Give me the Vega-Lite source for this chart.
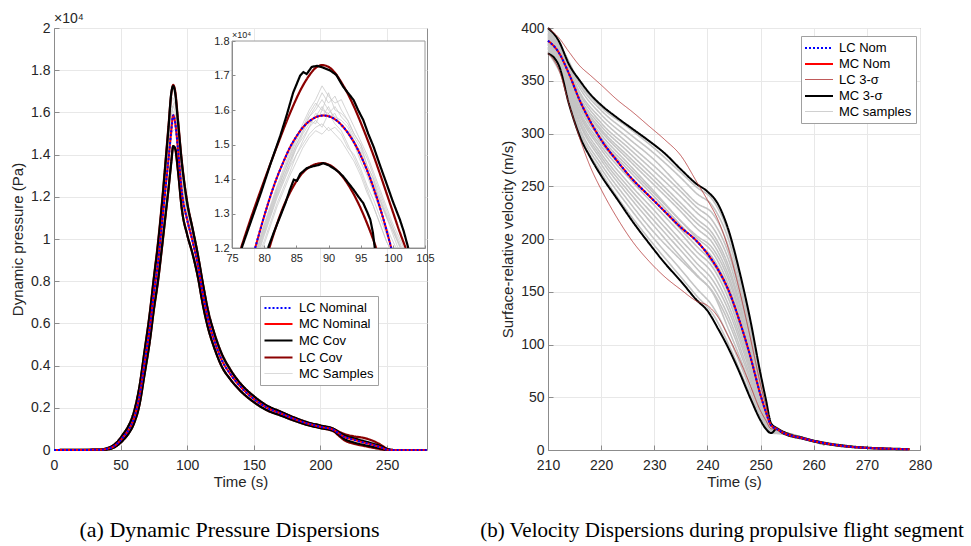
{
"$schema":"https://vega.github.io/schema/vega-lite/v6.json",
"background":"white",
"padding":{"left":10,"top":11,"right":5,"bottom":5},
"bounds":"flush",
"spacing":121,
"config":{
 "font":"Liberation Sans",
 "view":{"stroke":"#8c8c8c","strokeWidth":1},
 "axis":{"grid":true,"gridColor":"#e8e8e8","domainColor":"#8c8c8c","tickColor":"#8c8c8c","labelColor":"#262626","titleColor":"#262626","labelFont":"Liberation Sans","titleFont":"Liberation Sans","labelFontSize":14,"titleFontSize":15,"titleFontWeight":"normal","labelFlush":false,"labelOverlap":false,"tickSize":-5},
 "axisX":{"labelPadding":13,"titlePadding":2},
 "axisY":{"labelPadding":9,"titlePadding":5}
},
"datasets":{
"a":[
{"s":"N","i":"n","t":0,"q":0},{"s":"N","i":"n","t":35,"q":10},{"s":"N","i":"n","t":40,"q":60},{"s":"N","i":"n","t":44,"q":140},{"s":"N","i":"n","t":48,"q":330},{"s":"N","i":"n","t":52,"q":620},{"s":"N","i":"n","t":56,"q":950},{"s":"N","i":"n","t":60,"q":1500},{"s":"N","i":"n","t":64,"q":2500},{"s":"N","i":"n","t":68,"q":4150},{"s":"N","i":"n","t":72,"q":5830},{"s":"N","i":"n","t":75,"q":7440},{"s":"N","i":"n","t":78,"q":8850},{"s":"N","i":"n","t":81,"q":10700},{"s":"N","i":"n","t":84,"q":12600},{"s":"N","i":"n","t":86,"q":13800},{"s":"N","i":"n","t":88,"q":15100},{"s":"N","i":"n","t":89.5,"q":15870},{"s":"N","i":"n","t":91,"q":15500},{"s":"N","i":"n","t":93,"q":14300},{"s":"N","i":"n","t":96,"q":12200},{"s":"N","i":"n","t":100,"q":10900},{"s":"N","i":"n","t":104,"q":9900},{"s":"N","i":"n","t":108,"q":8750},{"s":"N","i":"n","t":112,"q":7300},{"s":"N","i":"n","t":116,"q":6100},{"s":"N","i":"n","t":120,"q":5250},{"s":"N","i":"n","t":126,"q":4250},{"s":"N","i":"n","t":132,"q":3630},{"s":"N","i":"n","t":140,"q":3000},{"s":"N","i":"n","t":150,"q":2420},{"s":"N","i":"n","t":160,"q":2000},{"s":"N","i":"n","t":170,"q":1740},{"s":"N","i":"n","t":180,"q":1480},{"s":"N","i":"n","t":190,"q":1260},{"s":"N","i":"n","t":200,"q":1100},{"s":"N","i":"n","t":210,"q":950},{"s":"N","i":"n","t":213,"q":820},{"s":"N","i":"n","t":218,"q":620},{"s":"N","i":"n","t":225,"q":490},{"s":"N","i":"n","t":232,"q":360},{"s":"N","i":"n","t":240,"q":230},{"s":"N","i":"n","t":246,"q":110},{"s":"N","i":"n","t":250,"q":15},{"s":"N","i":"n","t":255,"q":0},{"s":"N","i":"n","t":280,"q":0},
{"s":"MC","i":"u","t":0,"q":0},{"s":"MC","i":"u","t":35,"q":20},{"s":"MC","i":"u","t":40,"q":90},{"s":"MC","i":"u","t":44,"q":200},{"s":"MC","i":"u","t":48,"q":420},{"s":"MC","i":"u","t":52,"q":760},{"s":"MC","i":"u","t":56,"q":1150},{"s":"MC","i":"u","t":60,"q":1800},{"s":"MC","i":"u","t":64,"q":2950},{"s":"MC","i":"u","t":68,"q":4700},{"s":"MC","i":"u","t":72,"q":6500},{"s":"MC","i":"u","t":75,"q":8150},{"s":"MC","i":"u","t":78,"q":9700},{"s":"MC","i":"u","t":81,"q":11600},{"s":"MC","i":"u","t":84,"q":13800},{"s":"MC","i":"u","t":86,"q":15300},{"s":"MC","i":"u","t":88,"q":16900},{"s":"MC","i":"u","t":89.5,"q":17250},{"s":"MC","i":"u","t":91,"q":16900},{"s":"MC","i":"u","t":93,"q":15600},{"s":"MC","i":"u","t":96,"q":13600},{"s":"MC","i":"u","t":100,"q":11700},{"s":"MC","i":"u","t":104,"q":10500},{"s":"MC","i":"u","t":108,"q":9250},{"s":"MC","i":"u","t":112,"q":7800},{"s":"MC","i":"u","t":116,"q":6500},{"s":"MC","i":"u","t":120,"q":5600},{"s":"MC","i":"u","t":126,"q":4550},{"s":"MC","i":"u","t":132,"q":3850},{"s":"MC","i":"u","t":140,"q":3150},{"s":"MC","i":"u","t":150,"q":2550},{"s":"MC","i":"u","t":160,"q":2100},{"s":"MC","i":"u","t":170,"q":1820},{"s":"MC","i":"u","t":180,"q":1550},{"s":"MC","i":"u","t":190,"q":1320},{"s":"MC","i":"u","t":200,"q":1160},{"s":"MC","i":"u","t":210,"q":1000},{"s":"MC","i":"u","t":213,"q":880},{"s":"MC","i":"u","t":218,"q":700},{"s":"MC","i":"u","t":225,"q":560},{"s":"MC","i":"u","t":232,"q":430},{"s":"MC","i":"u","t":240,"q":290},{"s":"MC","i":"u","t":246,"q":170},{"s":"MC","i":"u","t":250,"q":50},{"s":"MC","i":"u","t":255,"q":0},{"s":"MC","i":"u","t":280,"q":0},
{"s":"MC","i":"l","t":0,"q":0},{"s":"MC","i":"l","t":35,"q":0},{"s":"MC","i":"l","t":40,"q":30},{"s":"MC","i":"l","t":44,"q":90},{"s":"MC","i":"l","t":48,"q":240},{"s":"MC","i":"l","t":52,"q":480},{"s":"MC","i":"l","t":56,"q":780},{"s":"MC","i":"l","t":60,"q":1250},{"s":"MC","i":"l","t":64,"q":2100},{"s":"MC","i":"l","t":68,"q":3600},{"s":"MC","i":"l","t":72,"q":5200},{"s":"MC","i":"l","t":75,"q":6700},{"s":"MC","i":"l","t":78,"q":8000},{"s":"MC","i":"l","t":81,"q":9600},{"s":"MC","i":"l","t":84,"q":11300},{"s":"MC","i":"l","t":86,"q":12400},{"s":"MC","i":"l","t":88,"q":13600},{"s":"MC","i":"l","t":89.5,"q":14400},{"s":"MC","i":"l","t":91,"q":14300},{"s":"MC","i":"l","t":93,"q":13300},{"s":"MC","i":"l","t":96,"q":11400},{"s":"MC","i":"l","t":100,"q":10200},{"s":"MC","i":"l","t":104,"q":9300},{"s":"MC","i":"l","t":108,"q":8200},{"s":"MC","i":"l","t":112,"q":6800},{"s":"MC","i":"l","t":116,"q":5700},{"s":"MC","i":"l","t":120,"q":4900},{"s":"MC","i":"l","t":126,"q":3950},{"s":"MC","i":"l","t":132,"q":3380},{"s":"MC","i":"l","t":140,"q":2800},{"s":"MC","i":"l","t":150,"q":2270},{"s":"MC","i":"l","t":160,"q":1880},{"s":"MC","i":"l","t":170,"q":1640},{"s":"MC","i":"l","t":180,"q":1400},{"s":"MC","i":"l","t":190,"q":1190},{"s":"MC","i":"l","t":200,"q":1040},{"s":"MC","i":"l","t":210,"q":900},{"s":"MC","i":"l","t":213,"q":760},{"s":"MC","i":"l","t":218,"q":520},{"s":"MC","i":"l","t":225,"q":360},{"s":"MC","i":"l","t":232,"q":250},{"s":"MC","i":"l","t":240,"q":140},{"s":"MC","i":"l","t":246,"q":60},{"s":"MC","i":"l","t":250,"q":0},{"s":"MC","i":"l","t":255,"q":0},{"s":"MC","i":"l","t":280,"q":0},
{"s":"LC","i":"u","t":0,"q":0},{"s":"LC","i":"u","t":35,"q":20},{"s":"LC","i":"u","t":40,"q":90},{"s":"LC","i":"u","t":44,"q":200},{"s":"LC","i":"u","t":48,"q":420},{"s":"LC","i":"u","t":52,"q":750},{"s":"LC","i":"u","t":56,"q":1150},{"s":"LC","i":"u","t":60,"q":1800},{"s":"LC","i":"u","t":64,"q":2950},{"s":"LC","i":"u","t":68,"q":4700},{"s":"LC","i":"u","t":72,"q":6550},{"s":"LC","i":"u","t":75,"q":8200},{"s":"LC","i":"u","t":78,"q":9800},{"s":"LC","i":"u","t":81,"q":11700},{"s":"LC","i":"u","t":84,"q":13900},{"s":"LC","i":"u","t":86,"q":15400},{"s":"LC","i":"u","t":88,"q":16850},{"s":"LC","i":"u","t":89.5,"q":17300},{"s":"LC","i":"u","t":91,"q":17000},{"s":"LC","i":"u","t":93,"q":15700},{"s":"LC","i":"u","t":96,"q":13650},{"s":"LC","i":"u","t":100,"q":11750},{"s":"LC","i":"u","t":104,"q":10500},{"s":"LC","i":"u","t":108,"q":9250},{"s":"LC","i":"u","t":112,"q":7800},{"s":"LC","i":"u","t":116,"q":6500},{"s":"LC","i":"u","t":120,"q":5600},{"s":"LC","i":"u","t":126,"q":4550},{"s":"LC","i":"u","t":132,"q":3850},{"s":"LC","i":"u","t":140,"q":3150},{"s":"LC","i":"u","t":150,"q":2550},{"s":"LC","i":"u","t":160,"q":2100},{"s":"LC","i":"u","t":170,"q":1820},{"s":"LC","i":"u","t":180,"q":1550},{"s":"LC","i":"u","t":190,"q":1320},{"s":"LC","i":"u","t":200,"q":1160},{"s":"LC","i":"u","t":210,"q":1000},{"s":"LC","i":"u","t":213,"q":900},{"s":"LC","i":"u","t":218,"q":760},{"s":"LC","i":"u","t":225,"q":650},{"s":"LC","i":"u","t":232,"q":580},{"s":"LC","i":"u","t":240,"q":420},{"s":"LC","i":"u","t":246,"q":220},{"s":"LC","i":"u","t":250,"q":60},{"s":"LC","i":"u","t":255,"q":0},{"s":"LC","i":"u","t":280,"q":0},
{"s":"LC","i":"l","t":0,"q":0},{"s":"LC","i":"l","t":35,"q":0},{"s":"LC","i":"l","t":40,"q":30},{"s":"LC","i":"l","t":44,"q":90},{"s":"LC","i":"l","t":48,"q":240},{"s":"LC","i":"l","t":52,"q":480},{"s":"LC","i":"l","t":56,"q":790},{"s":"LC","i":"l","t":60,"q":1260},{"s":"LC","i":"l","t":64,"q":2100},{"s":"LC","i":"l","t":68,"q":3600},{"s":"LC","i":"l","t":72,"q":5200},{"s":"LC","i":"l","t":75,"q":6650},{"s":"LC","i":"l","t":78,"q":7950},{"s":"LC","i":"l","t":81,"q":9550},{"s":"LC","i":"l","t":84,"q":11250},{"s":"LC","i":"l","t":86,"q":12400},{"s":"LC","i":"l","t":88,"q":13650},{"s":"LC","i":"l","t":89.5,"q":14400},{"s":"LC","i":"l","t":91,"q":14250},{"s":"LC","i":"l","t":93,"q":13250},{"s":"LC","i":"l","t":96,"q":11400},{"s":"LC","i":"l","t":100,"q":10200},{"s":"LC","i":"l","t":104,"q":9300},{"s":"LC","i":"l","t":108,"q":8200},{"s":"LC","i":"l","t":112,"q":6800},{"s":"LC","i":"l","t":116,"q":5700},{"s":"LC","i":"l","t":120,"q":4900},{"s":"LC","i":"l","t":126,"q":3950},{"s":"LC","i":"l","t":132,"q":3380},{"s":"LC","i":"l","t":140,"q":2800},{"s":"LC","i":"l","t":150,"q":2270},{"s":"LC","i":"l","t":160,"q":1880},{"s":"LC","i":"l","t":170,"q":1640},{"s":"LC","i":"l","t":180,"q":1400},{"s":"LC","i":"l","t":190,"q":1190},{"s":"LC","i":"l","t":200,"q":1040},{"s":"LC","i":"l","t":210,"q":880},{"s":"LC","i":"l","t":213,"q":720},{"s":"LC","i":"l","t":218,"q":460},{"s":"LC","i":"l","t":225,"q":300},{"s":"LC","i":"l","t":232,"q":200},{"s":"LC","i":"l","t":240,"q":100},{"s":"LC","i":"l","t":246,"q":30},{"s":"LC","i":"l","t":250,"q":0},{"s":"LC","i":"l","t":255,"q":0},{"s":"LC","i":"l","t":280,"q":0},
{"s":"MS","i":"1","t":0,"q":0},{"s":"MS","i":"1","t":40,"q":80},{"s":"MS","i":"1","t":50,"q":450},{"s":"MS","i":"1","t":60,"q":1600},{"s":"MS","i":"1","t":68,"q":4400},{"s":"MS","i":"1","t":75,"q":7900},{"s":"MS","i":"1","t":80,"q":10800},{"s":"MS","i":"1","t":84,"q":13500},{"s":"MS","i":"1","t":87,"q":15600},{"s":"MS","i":"1","t":89,"q":16700},{"s":"MS","i":"1","t":91,"q":16300},{"s":"MS","i":"1","t":93,"q":15100},{"s":"MS","i":"1","t":96,"q":13000},{"s":"MS","i":"1","t":100,"q":11500},{"s":"MS","i":"1","t":106,"q":9800},{"s":"MS","i":"1","t":112,"q":7700},{"s":"MS","i":"1","t":120,"q":5550},{"s":"MS","i":"1","t":130,"q":4000},{"s":"MS","i":"1","t":145,"q":2850},{"s":"MS","i":"1","t":160,"q":2100},{"s":"MS","i":"1","t":180,"q":1550},{"s":"MS","i":"1","t":200,"q":1150},{"s":"MS","i":"1","t":210,"q":1000},{"s":"MS","i":"1","t":215,"q":780},{"s":"MS","i":"1","t":225,"q":560},{"s":"MS","i":"1","t":235,"q":400},{"s":"MS","i":"1","t":245,"q":200},{"s":"MS","i":"1","t":250,"q":60},{"s":"MS","i":"1","t":255,"q":0},{"s":"MS","i":"1","t":280,"q":0},
{"s":"MS","i":"2","t":0,"q":0},{"s":"MS","i":"2","t":40,"q":60},{"s":"MS","i":"2","t":50,"q":400},{"s":"MS","i":"2","t":60,"q":1500},{"s":"MS","i":"2","t":68,"q":4200},{"s":"MS","i":"2","t":75,"q":7600},{"s":"MS","i":"2","t":80,"q":10400},{"s":"MS","i":"2","t":84,"q":13000},{"s":"MS","i":"2","t":87,"q":15100},{"s":"MS","i":"2","t":89,"q":16300},{"s":"MS","i":"2","t":91,"q":16000},{"s":"MS","i":"2","t":93,"q":14800},{"s":"MS","i":"2","t":96,"q":12700},{"s":"MS","i":"2","t":100,"q":11300},{"s":"MS","i":"2","t":106,"q":9650},{"s":"MS","i":"2","t":112,"q":7600},{"s":"MS","i":"2","t":120,"q":5450},{"s":"MS","i":"2","t":130,"q":3950},{"s":"MS","i":"2","t":145,"q":2800},{"s":"MS","i":"2","t":160,"q":2080},{"s":"MS","i":"2","t":180,"q":1530},{"s":"MS","i":"2","t":200,"q":1140},{"s":"MS","i":"2","t":210,"q":990},{"s":"MS","i":"2","t":215,"q":760},{"s":"MS","i":"2","t":225,"q":540},{"s":"MS","i":"2","t":235,"q":380},{"s":"MS","i":"2","t":245,"q":180},{"s":"MS","i":"2","t":250,"q":40},{"s":"MS","i":"2","t":255,"q":0},{"s":"MS","i":"2","t":280,"q":0},
{"s":"MS","i":"3","t":0,"q":0},{"s":"MS","i":"3","t":40,"q":40},{"s":"MS","i":"3","t":50,"q":330},{"s":"MS","i":"3","t":60,"q":1350},{"s":"MS","i":"3","t":68,"q":3900},{"s":"MS","i":"3","t":75,"q":7200},{"s":"MS","i":"3","t":80,"q":9900},{"s":"MS","i":"3","t":84,"q":12400},{"s":"MS","i":"3","t":87,"q":14500},{"s":"MS","i":"3","t":89,"q":15800},{"s":"MS","i":"3","t":91,"q":15900},{"s":"MS","i":"3","t":93,"q":14900},{"s":"MS","i":"3","t":96,"q":12900},{"s":"MS","i":"3","t":100,"q":11400},{"s":"MS","i":"3","t":106,"q":9700},{"s":"MS","i":"3","t":112,"q":7650},{"s":"MS","i":"3","t":120,"q":5500},{"s":"MS","i":"3","t":130,"q":3980},{"s":"MS","i":"3","t":145,"q":2820},{"s":"MS","i":"3","t":160,"q":2090},{"s":"MS","i":"3","t":180,"q":1540},{"s":"MS","i":"3","t":200,"q":1150},{"s":"MS","i":"3","t":210,"q":990},{"s":"MS","i":"3","t":215,"q":770},{"s":"MS","i":"3","t":225,"q":560},{"s":"MS","i":"3","t":235,"q":400},{"s":"MS","i":"3","t":245,"q":190},{"s":"MS","i":"3","t":250,"q":50},{"s":"MS","i":"3","t":255,"q":0},{"s":"MS","i":"3","t":280,"q":0},
{"s":"MS","i":"4","t":0,"q":0},{"s":"MS","i":"4","t":40,"q":70},{"s":"MS","i":"4","t":50,"q":420},{"s":"MS","i":"4","t":60,"q":1550},{"s":"MS","i":"4","t":68,"q":4300},{"s":"MS","i":"4","t":75,"q":7700},{"s":"MS","i":"4","t":80,"q":10300},{"s":"MS","i":"4","t":84,"q":12800},{"s":"MS","i":"4","t":87,"q":14600},{"s":"MS","i":"4","t":89,"q":15500},{"s":"MS","i":"4","t":91,"q":15300},{"s":"MS","i":"4","t":93,"q":14200},{"s":"MS","i":"4","t":96,"q":12300},{"s":"MS","i":"4","t":100,"q":11000},{"s":"MS","i":"4","t":106,"q":9400},{"s":"MS","i":"4","t":112,"q":7400},{"s":"MS","i":"4","t":120,"q":5350},{"s":"MS","i":"4","t":130,"q":3870},{"s":"MS","i":"4","t":145,"q":2750},{"s":"MS","i":"4","t":160,"q":2040},{"s":"MS","i":"4","t":180,"q":1510},{"s":"MS","i":"4","t":200,"q":1120},{"s":"MS","i":"4","t":210,"q":970},{"s":"MS","i":"4","t":215,"q":740},{"s":"MS","i":"4","t":225,"q":520},{"s":"MS","i":"4","t":235,"q":360},{"s":"MS","i":"4","t":245,"q":160},{"s":"MS","i":"4","t":250,"q":30},{"s":"MS","i":"4","t":255,"q":0},{"s":"MS","i":"4","t":280,"q":0},
{"s":"MS","i":"5","t":0,"q":0},{"s":"MS","i":"5","t":40,"q":50},{"s":"MS","i":"5","t":50,"q":360},{"s":"MS","i":"5","t":60,"q":1400},{"s":"MS","i":"5","t":68,"q":4000},{"s":"MS","i":"5","t":75,"q":7300},{"s":"MS","i":"5","t":80,"q":9900},{"s":"MS","i":"5","t":84,"q":12300},{"s":"MS","i":"5","t":87,"q":14100},{"s":"MS","i":"5","t":89,"q":15100},{"s":"MS","i":"5","t":91,"q":15200},{"s":"MS","i":"5","t":93,"q":14200},{"s":"MS","i":"5","t":96,"q":12300},{"s":"MS","i":"5","t":100,"q":11000},{"s":"MS","i":"5","t":106,"q":9450},{"s":"MS","i":"5","t":112,"q":7450},{"s":"MS","i":"5","t":120,"q":5400},{"s":"MS","i":"5","t":130,"q":3900},{"s":"MS","i":"5","t":145,"q":2780},{"s":"MS","i":"5","t":160,"q":2060},{"s":"MS","i":"5","t":180,"q":1520},{"s":"MS","i":"5","t":200,"q":1130},{"s":"MS","i":"5","t":210,"q":980},{"s":"MS","i":"5","t":215,"q":750},{"s":"MS","i":"5","t":225,"q":540},{"s":"MS","i":"5","t":235,"q":390},{"s":"MS","i":"5","t":245,"q":200},{"s":"MS","i":"5","t":250,"q":50},{"s":"MS","i":"5","t":255,"q":0},{"s":"MS","i":"5","t":280,"q":0},
{"s":"MS","i":"6","t":0,"q":0},{"s":"MS","i":"6","t":40,"q":40},{"s":"MS","i":"6","t":50,"q":320},{"s":"MS","i":"6","t":60,"q":1300},{"s":"MS","i":"6","t":68,"q":3800},{"s":"MS","i":"6","t":75,"q":7000},{"s":"MS","i":"6","t":80,"q":9700},{"s":"MS","i":"6","t":84,"q":12300},{"s":"MS","i":"6","t":87,"q":14800},{"s":"MS","i":"6","t":89,"q":16200},{"s":"MS","i":"6","t":91,"q":16500},{"s":"MS","i":"6","t":93,"q":15600},{"s":"MS","i":"6","t":96,"q":13500},{"s":"MS","i":"6","t":100,"q":11800},{"s":"MS","i":"6","t":106,"q":10000},{"s":"MS","i":"6","t":112,"q":7900},{"s":"MS","i":"6","t":120,"q":5650},{"s":"MS","i":"6","t":130,"q":4050},{"s":"MS","i":"6","t":145,"q":2880},{"s":"MS","i":"6","t":160,"q":2120},{"s":"MS","i":"6","t":180,"q":1560},{"s":"MS","i":"6","t":200,"q":1160},{"s":"MS","i":"6","t":210,"q":1010},{"s":"MS","i":"6","t":215,"q":800},{"s":"MS","i":"6","t":225,"q":590},{"s":"MS","i":"6","t":235,"q":430},{"s":"MS","i":"6","t":245,"q":230},{"s":"MS","i":"6","t":250,"q":70},{"s":"MS","i":"6","t":255,"q":5},{"s":"MS","i":"6","t":280,"q":0},
{"s":"MS","i":"7","t":0,"q":0},{"s":"MS","i":"7","t":40,"q":60},{"s":"MS","i":"7","t":50,"q":380},{"s":"MS","i":"7","t":60,"q":1450},{"s":"MS","i":"7","t":68,"q":4100},{"s":"MS","i":"7","t":75,"q":7450},{"s":"MS","i":"7","t":80,"q":10100},{"s":"MS","i":"7","t":84,"q":12700},{"s":"MS","i":"7","t":87,"q":14800},{"s":"MS","i":"7","t":89,"q":15800},{"s":"MS","i":"7","t":91,"q":15600},{"s":"MS","i":"7","t":93,"q":14600},{"s":"MS","i":"7","t":96,"q":12600},{"s":"MS","i":"7","t":100,"q":11200},{"s":"MS","i":"7","t":106,"q":9550},{"s":"MS","i":"7","t":112,"q":7500},{"s":"MS","i":"7","t":120,"q":5420},{"s":"MS","i":"7","t":130,"q":3920},{"s":"MS","i":"7","t":145,"q":2790},{"s":"MS","i":"7","t":160,"q":2060},{"s":"MS","i":"7","t":180,"q":1520},{"s":"MS","i":"7","t":200,"q":1130},{"s":"MS","i":"7","t":210,"q":980},{"s":"MS","i":"7","t":215,"q":760},{"s":"MS","i":"7","t":225,"q":550},{"s":"MS","i":"7","t":235,"q":390},{"s":"MS","i":"7","t":245,"q":190},{"s":"MS","i":"7","t":250,"q":45},{"s":"MS","i":"7","t":255,"q":0},{"s":"MS","i":"7","t":280,"q":0},
{"s":"MS","i":"8","t":0,"q":0},{"s":"MS","i":"8","t":40,"q":90},{"s":"MS","i":"8","t":50,"q":480},{"s":"MS","i":"8","t":60,"q":1700},{"s":"MS","i":"8","t":68,"q":4500},{"s":"MS","i":"8","t":75,"q":8000},{"s":"MS","i":"8","t":80,"q":10700},{"s":"MS","i":"8","t":84,"q":13200},{"s":"MS","i":"8","t":87,"q":15300},{"s":"MS","i":"8","t":89,"q":16100},{"s":"MS","i":"8","t":91,"q":15500},{"s":"MS","i":"8","t":93,"q":14100},{"s":"MS","i":"8","t":96,"q":12200},{"s":"MS","i":"8","t":100,"q":11000},{"s":"MS","i":"8","t":106,"q":9400},{"s":"MS","i":"8","t":112,"q":7400},{"s":"MS","i":"8","t":120,"q":5350},{"s":"MS","i":"8","t":130,"q":3880},{"s":"MS","i":"8","t":145,"q":2760},{"s":"MS","i":"8","t":160,"q":2050},{"s":"MS","i":"8","t":180,"q":1510},{"s":"MS","i":"8","t":200,"q":1120},{"s":"MS","i":"8","t":210,"q":970},{"s":"MS","i":"8","t":215,"q":740},{"s":"MS","i":"8","t":225,"q":510},{"s":"MS","i":"8","t":235,"q":350},{"s":"MS","i":"8","t":245,"q":150},{"s":"MS","i":"8","t":250,"q":25},{"s":"MS","i":"8","t":255,"q":0},{"s":"MS","i":"8","t":280,"q":0}
],
"ai":[
{"s":"N","i":"n","t":78.6,"q":12000},{"s":"N","i":"n","t":80,"q":12920},{"s":"N","i":"n","t":81,"q":13520},{"s":"N","i":"n","t":82,"q":14050},{"s":"N","i":"n","t":83,"q":14500},{"s":"N","i":"n","t":84,"q":14910},{"s":"N","i":"n","t":85,"q":15230},{"s":"N","i":"n","t":86,"q":15490},{"s":"N","i":"n","t":87,"q":15670},{"s":"N","i":"n","t":88,"q":15790},{"s":"N","i":"n","t":89.2,"q":15840},{"s":"N","i":"n","t":90,"q":15820},{"s":"N","i":"n","t":91,"q":15730},{"s":"N","i":"n","t":92,"q":15570},{"s":"N","i":"n","t":93,"q":15340},{"s":"N","i":"n","t":94,"q":15050},{"s":"N","i":"n","t":95,"q":14680},{"s":"N","i":"n","t":96,"q":14250},{"s":"N","i":"n","t":97,"q":13740},{"s":"N","i":"n","t":98,"q":13170},{"s":"N","i":"n","t":99,"q":12530},{"s":"N","i":"n","t":99.75,"q":12000},
{"s":"MC","i":"u","t":76.5,"q":12000},{"s":"MC","i":"u","t":78,"q":12800},{"s":"MC","i":"u","t":79.5,"q":13600},{"s":"MC","i":"u","t":81,"q":14450},{"s":"MC","i":"u","t":82.5,"q":15250},{"s":"MC","i":"u","t":83.5,"q":15850},{"s":"MC","i":"u","t":84.5,"q":16500},{"s":"MC","i":"u","t":85.6,"q":17000},{"s":"MC","i":"u","t":86.1,"q":17100},{"s":"MC","i":"u","t":86.6,"q":17040},{"s":"MC","i":"u","t":87.4,"q":17250},{"s":"MC","i":"u","t":88.2,"q":17280},{"s":"MC","i":"u","t":89,"q":17240},{"s":"MC","i":"u","t":90.2,"q":17150},{"s":"MC","i":"u","t":91.2,"q":17020},{"s":"MC","i":"u","t":92.3,"q":16670},{"s":"MC","i":"u","t":93.1,"q":16480},{"s":"MC","i":"u","t":93.9,"q":16290},{"s":"MC","i":"u","t":94.6,"q":16000},{"s":"MC","i":"u","t":95.4,"q":15710},{"s":"MC","i":"u","t":96.2,"q":15300},{"s":"MC","i":"u","t":97,"q":14940},{"s":"MC","i":"u","t":98,"q":14400},{"s":"MC","i":"u","t":99,"q":13880},{"s":"MC","i":"u","t":100,"q":13350},{"s":"MC","i":"u","t":101.1,"q":12820},{"s":"MC","i":"u","t":101.7,"q":12480},{"s":"MC","i":"u","t":102.4,"q":12000},
{"s":"MC","i":"l","t":80.6,"q":12000},{"s":"MC","i":"l","t":81.5,"q":12450},{"s":"MC","i":"l","t":82.5,"q":12920},{"s":"MC","i":"l","t":83.3,"q":13300},{"s":"MC","i":"l","t":84,"q":13690},{"s":"MC","i":"l","t":84.6,"q":13980},{"s":"MC","i":"l","t":85.1,"q":13950},{"s":"MC","i":"l","t":85.6,"q":14150},{"s":"MC","i":"l","t":86.6,"q":14310},{"s":"MC","i":"l","t":87.6,"q":14370},{"s":"MC","i":"l","t":88.4,"q":14400},{"s":"MC","i":"l","t":89.2,"q":14460},{"s":"MC","i":"l","t":90,"q":14400},{"s":"MC","i":"l","t":90.8,"q":14310},{"s":"MC","i":"l","t":91.6,"q":14200},{"s":"MC","i":"l","t":92.3,"q":14070},{"s":"MC","i":"l","t":93.1,"q":13880},{"s":"MC","i":"l","t":93.9,"q":13690},{"s":"MC","i":"l","t":94.6,"q":13500},{"s":"MC","i":"l","t":95.4,"q":13300},{"s":"MC","i":"l","t":96,"q":13050},{"s":"MC","i":"l","t":96.5,"q":12820},{"s":"MC","i":"l","t":96.9,"q":12450},{"s":"MC","i":"l","t":97.2,"q":12000},
{"s":"LC","i":"u","t":76.4,"q":12000},{"s":"LC","i":"u","t":78,"q":12900},{"s":"LC","i":"u","t":80,"q":13950},{"s":"LC","i":"u","t":82,"q":14950},{"s":"LC","i":"u","t":84,"q":15900},{"s":"LC","i":"u","t":86,"q":16700},{"s":"LC","i":"u","t":87,"q":17000},{"s":"LC","i":"u","t":88,"q":17220},{"s":"LC","i":"u","t":89,"q":17300},{"s":"LC","i":"u","t":90,"q":17250},{"s":"LC","i":"u","t":91,"q":17080},{"s":"LC","i":"u","t":92,"q":16800},{"s":"LC","i":"u","t":93,"q":16470},{"s":"LC","i":"u","t":94,"q":16080},{"s":"LC","i":"u","t":95,"q":15640},{"s":"LC","i":"u","t":96,"q":15170},{"s":"LC","i":"u","t":97,"q":14680},{"s":"LC","i":"u","t":98,"q":14150},{"s":"LC","i":"u","t":99,"q":13600},{"s":"LC","i":"u","t":100,"q":13050},{"s":"LC","i":"u","t":101,"q":12500},{"s":"LC","i":"u","t":102,"q":12000},
{"s":"LC","i":"l","t":80.8,"q":12000},{"s":"LC","i":"l","t":82,"q":12700},{"s":"LC","i":"l","t":83,"q":13200},{"s":"LC","i":"l","t":84,"q":13600},{"s":"LC","i":"l","t":85,"q":13930},{"s":"LC","i":"l","t":86,"q":14180},{"s":"LC","i":"l","t":87,"q":14340},{"s":"LC","i":"l","t":88,"q":14430},{"s":"LC","i":"l","t":89,"q":14460},{"s":"LC","i":"l","t":90,"q":14420},{"s":"LC","i":"l","t":91,"q":14300},{"s":"LC","i":"l","t":92,"q":14110},{"s":"LC","i":"l","t":93,"q":13850},{"s":"LC","i":"l","t":94,"q":13530},{"s":"LC","i":"l","t":95,"q":13150},{"s":"LC","i":"l","t":96,"q":12710},{"s":"LC","i":"l","t":97,"q":12220},{"s":"LC","i":"l","t":97.4,"q":12000},
{"s":"MS","i":"1","t":79,"q":12000},{"s":"MS","i":"1","t":80,"q":12600},{"s":"MS","i":"1","t":82,"q":13700},{"s":"MS","i":"1","t":84,"q":14600},{"s":"MS","i":"1","t":85,"q":15000},{"s":"MS","i":"1","t":86,"q":15350},{"s":"MS","i":"1","t":87,"q":15800},{"s":"MS","i":"1","t":88,"q":16100},{"s":"MS","i":"1","t":89,"q":16500},{"s":"MS","i":"1","t":90,"q":16200},{"s":"MS","i":"1","t":91,"q":16400},{"s":"MS","i":"1","t":92,"q":16000},{"s":"MS","i":"1","t":93,"q":15700},{"s":"MS","i":"1","t":94,"q":15300},{"s":"MS","i":"1","t":95,"q":15000},{"s":"MS","i":"1","t":96,"q":14400},{"s":"MS","i":"1","t":97,"q":14000},{"s":"MS","i":"1","t":98,"q":13300},{"s":"MS","i":"1","t":99,"q":12900},{"s":"MS","i":"1","t":100,"q":12500},{"s":"MS","i":"1","t":101,"q":12100},{"s":"MS","i":"1","t":101.2,"q":12000},
{"s":"MS","i":"2","t":79.3,"q":12000},{"s":"MS","i":"2","t":80,"q":12400},{"s":"MS","i":"2","t":82,"q":13500},{"s":"MS","i":"2","t":84,"q":14400},{"s":"MS","i":"2","t":85,"q":14900},{"s":"MS","i":"2","t":86,"q":15200},{"s":"MS","i":"2","t":87,"q":15500},{"s":"MS","i":"2","t":88,"q":15900},{"s":"MS","i":"2","t":89,"q":15800},{"s":"MS","i":"2","t":90,"q":16100},{"s":"MS","i":"2","t":91,"q":15700},{"s":"MS","i":"2","t":92,"q":15600},{"s":"MS","i":"2","t":93,"q":15300},{"s":"MS","i":"2","t":94,"q":15000},{"s":"MS","i":"2","t":95,"q":14500},{"s":"MS","i":"2","t":96,"q":14100},{"s":"MS","i":"2","t":97,"q":13600},{"s":"MS","i":"2","t":98,"q":13100},{"s":"MS","i":"2","t":99,"q":12600},{"s":"MS","i":"2","t":100,"q":12200},{"s":"MS","i":"2","t":100.5,"q":12000},
{"s":"MS","i":"3","t":78.8,"q":12000},{"s":"MS","i":"3","t":80,"q":12700},{"s":"MS","i":"3","t":82,"q":13800},{"s":"MS","i":"3","t":84,"q":14800},{"s":"MS","i":"3","t":85,"q":15200},{"s":"MS","i":"3","t":86,"q":15600},{"s":"MS","i":"3","t":87,"q":16000},{"s":"MS","i":"3","t":88,"q":16300},{"s":"MS","i":"3","t":89,"q":16700},{"s":"MS","i":"3","t":90,"q":16400},{"s":"MS","i":"3","t":91,"q":16200},{"s":"MS","i":"3","t":92,"q":16300},{"s":"MS","i":"3","t":93,"q":15900},{"s":"MS","i":"3","t":94,"q":15500},{"s":"MS","i":"3","t":95,"q":15100},{"s":"MS","i":"3","t":96,"q":14700},{"s":"MS","i":"3","t":97,"q":14200},{"s":"MS","i":"3","t":98,"q":13700},{"s":"MS","i":"3","t":99,"q":13200},{"s":"MS","i":"3","t":100,"q":12700},{"s":"MS","i":"3","t":101,"q":12300},{"s":"MS","i":"3","t":101.7,"q":12000},
{"s":"MS","i":"4","t":79.6,"q":12000},{"s":"MS","i":"4","t":80,"q":12200},{"s":"MS","i":"4","t":82,"q":13300},{"s":"MS","i":"4","t":84,"q":14200},{"s":"MS","i":"4","t":85,"q":14700},{"s":"MS","i":"4","t":86,"q":15000},{"s":"MS","i":"4","t":87,"q":15300},{"s":"MS","i":"4","t":88,"q":15500},{"s":"MS","i":"4","t":89,"q":15600},{"s":"MS","i":"4","t":90,"q":15400},{"s":"MS","i":"4","t":91,"q":15500},{"s":"MS","i":"4","t":92,"q":15300},{"s":"MS","i":"4","t":93,"q":14900},{"s":"MS","i":"4","t":94,"q":14700},{"s":"MS","i":"4","t":95,"q":14300},{"s":"MS","i":"4","t":96,"q":13800},{"s":"MS","i":"4","t":97,"q":13400},{"s":"MS","i":"4","t":98,"q":12900},{"s":"MS","i":"4","t":99,"q":12400},{"s":"MS","i":"4","t":99.8,"q":12000},
{"s":"MS","i":"5","t":79.1,"q":12000},{"s":"MS","i":"5","t":80,"q":12500},{"s":"MS","i":"5","t":82,"q":13600},{"s":"MS","i":"5","t":84,"q":14500},{"s":"MS","i":"5","t":85,"q":15000},{"s":"MS","i":"5","t":86,"q":15400},{"s":"MS","i":"5","t":87,"q":15700},{"s":"MS","i":"5","t":88,"q":15600},{"s":"MS","i":"5","t":89,"q":16000},{"s":"MS","i":"5","t":90,"q":15900},{"s":"MS","i":"5","t":91,"q":16100},{"s":"MS","i":"5","t":92,"q":15800},{"s":"MS","i":"5","t":93,"q":15600},{"s":"MS","i":"5","t":94,"q":15200},{"s":"MS","i":"5","t":95,"q":14900},{"s":"MS","i":"5","t":96,"q":14400},{"s":"MS","i":"5","t":97,"q":14000},{"s":"MS","i":"5","t":98,"q":13500},{"s":"MS","i":"5","t":99,"q":13000},{"s":"MS","i":"5","t":100,"q":12600},{"s":"MS","i":"5","t":101,"q":12200},{"s":"MS","i":"5","t":101.4,"q":12000},
{"s":"MS","i":"6","t":79.4,"q":12000},{"s":"MS","i":"6","t":80,"q":12350},{"s":"MS","i":"6","t":82,"q":13450},{"s":"MS","i":"6","t":84,"q":14350},{"s":"MS","i":"6","t":85,"q":14700},{"s":"MS","i":"6","t":86,"q":15100},{"s":"MS","i":"6","t":87,"q":15500},{"s":"MS","i":"6","t":88,"q":15700},{"s":"MS","i":"6","t":89,"q":15500},{"s":"MS","i":"6","t":90,"q":15900},{"s":"MS","i":"6","t":91,"q":15600},{"s":"MS","i":"6","t":92,"q":15400},{"s":"MS","i":"6","t":93,"q":15000},{"s":"MS","i":"6","t":94,"q":14600},{"s":"MS","i":"6","t":95,"q":14200},{"s":"MS","i":"6","t":96,"q":13700},{"s":"MS","i":"6","t":97,"q":13200},{"s":"MS","i":"6","t":98,"q":12700},{"s":"MS","i":"6","t":99,"q":12200},{"s":"MS","i":"6","t":99.5,"q":12000},
{"s":"MS","i":"7","t":78.9,"q":12000},{"s":"MS","i":"7","t":80,"q":12650},{"s":"MS","i":"7","t":82,"q":13750},{"s":"MS","i":"7","t":84,"q":14700},{"s":"MS","i":"7","t":85,"q":15200},{"s":"MS","i":"7","t":86,"q":15500},{"s":"MS","i":"7","t":87,"q":15900},{"s":"MS","i":"7","t":88,"q":16200},{"s":"MS","i":"7","t":89,"q":16000},{"s":"MS","i":"7","t":90,"q":16500},{"s":"MS","i":"7","t":91,"q":16000},{"s":"MS","i":"7","t":92,"q":15900},{"s":"MS","i":"7","t":93,"q":15700},{"s":"MS","i":"7","t":94,"q":15300},{"s":"MS","i":"7","t":95,"q":15000},{"s":"MS","i":"7","t":96,"q":14600},{"s":"MS","i":"7","t":97,"q":14100},{"s":"MS","i":"7","t":98,"q":13600},{"s":"MS","i":"7","t":99,"q":13100},{"s":"MS","i":"7","t":100,"q":12600},{"s":"MS","i":"7","t":101,"q":12100},{"s":"MS","i":"7","t":101.3,"q":12000},
{"s":"MS","i":"8","t":79.8,"q":12000},{"s":"MS","i":"8","t":80,"q":12100},{"s":"MS","i":"8","t":82,"q":13200},{"s":"MS","i":"8","t":84,"q":14100},{"s":"MS","i":"8","t":85,"q":14500},{"s":"MS","i":"8","t":86,"q":14900},{"s":"MS","i":"8","t":87,"q":15200},{"s":"MS","i":"8","t":88,"q":15400},{"s":"MS","i":"8","t":89,"q":15300},{"s":"MS","i":"8","t":90,"q":15500},{"s":"MS","i":"8","t":91,"q":15300},{"s":"MS","i":"8","t":92,"q":15100},{"s":"MS","i":"8","t":93,"q":14800},{"s":"MS","i":"8","t":94,"q":14500},{"s":"MS","i":"8","t":95,"q":14100},{"s":"MS","i":"8","t":96,"q":13600},{"s":"MS","i":"8","t":97,"q":13200},{"s":"MS","i":"8","t":98,"q":12700},{"s":"MS","i":"8","t":99,"q":12200},{"s":"MS","i":"8","t":99.5,"q":12000},
{"s":"MS","i":"9","t":79.2,"q":12000},{"s":"MS","i":"9","t":80,"q":12450},{"s":"MS","i":"9","t":82,"q":13550},{"s":"MS","i":"9","t":84,"q":14500},{"s":"MS","i":"9","t":85,"q":14900},{"s":"MS","i":"9","t":86,"q":15300},{"s":"MS","i":"9","t":87,"q":15600},{"s":"MS","i":"9","t":88,"q":15800},{"s":"MS","i":"9","t":89,"q":16100},{"s":"MS","i":"9","t":90,"q":15800},{"s":"MS","i":"9","t":91,"q":15900},{"s":"MS","i":"9","t":92,"q":15500},{"s":"MS","i":"9","t":93,"q":15400},{"s":"MS","i":"9","t":94,"q":15100},{"s":"MS","i":"9","t":95,"q":14700},{"s":"MS","i":"9","t":96,"q":14300},{"s":"MS","i":"9","t":97,"q":13800},{"s":"MS","i":"9","t":98,"q":13400},{"s":"MS","i":"9","t":99,"q":12900},{"s":"MS","i":"9","t":100,"q":12400},{"s":"MS","i":"9","t":100.8,"q":12000},
{"s":"MS","i":"10","t":79,"q":12000},{"s":"MS","i":"10","t":80,"q":12550},{"s":"MS","i":"10","t":82,"q":13650},{"s":"MS","i":"10","t":84,"q":14650},{"s":"MS","i":"10","t":85,"q":15100},{"s":"MS","i":"10","t":86,"q":15500},{"s":"MS","i":"10","t":87,"q":15800},{"s":"MS","i":"10","t":88,"q":16000},{"s":"MS","i":"10","t":89,"q":16300},{"s":"MS","i":"10","t":90,"q":16000},{"s":"MS","i":"10","t":91,"q":15800},{"s":"MS","i":"10","t":92,"q":15700},{"s":"MS","i":"10","t":93,"q":15500},{"s":"MS","i":"10","t":94,"q":15100},{"s":"MS","i":"10","t":95,"q":14800},{"s":"MS","i":"10","t":96,"q":14300},{"s":"MS","i":"10","t":97,"q":13900},{"s":"MS","i":"10","t":98,"q":13400},{"s":"MS","i":"10","t":99,"q":12950},{"s":"MS","i":"10","t":100,"q":12500},{"s":"MS","i":"10","t":101,"q":12050},{"s":"MS","i":"10","t":101.1,"q":12000}
],
"b":[
{"s":"N","i":"n","t":210,"v":388},{"s":"N","i":"n","t":212,"v":377},{"s":"N","i":"n","t":214,"v":356},{"s":"N","i":"n","t":216,"v":331},{"s":"N","i":"n","t":218,"v":311},{"s":"N","i":"n","t":220,"v":294},{"s":"N","i":"n","t":223,"v":274},{"s":"N","i":"n","t":226,"v":256},{"s":"N","i":"n","t":229,"v":241},{"s":"N","i":"n","t":232,"v":226},{"s":"N","i":"n","t":235,"v":211},{"s":"N","i":"n","t":238,"v":198},{"s":"N","i":"n","t":240,"v":186},{"s":"N","i":"n","t":242,"v":171},{"s":"N","i":"n","t":244,"v":151},{"s":"N","i":"n","t":246,"v":123},{"s":"N","i":"n","t":248,"v":90},{"s":"N","i":"n","t":250,"v":52},{"s":"N","i":"n","t":251,"v":36},{"s":"N","i":"n","t":252,"v":23},{"s":"N","i":"n","t":253,"v":20},{"s":"N","i":"n","t":254,"v":17},{"s":"N","i":"n","t":258,"v":11},{"s":"N","i":"n","t":262,"v":6.5},{"s":"N","i":"n","t":266,"v":3.5},{"s":"N","i":"n","t":270,"v":2},{"s":"N","i":"n","t":274,"v":1.2},{"s":"N","i":"n","t":278,"v":0.7},
{"s":"M3","i":"u","t":210,"v":400},{"s":"M3","i":"u","t":212,"v":388},{"s":"M3","i":"u","t":214,"v":365},{"s":"M3","i":"u","t":216,"v":350},{"s":"M3","i":"u","t":218,"v":337},{"s":"M3","i":"u","t":220,"v":327},{"s":"M3","i":"u","t":223,"v":315},{"s":"M3","i":"u","t":226,"v":304},{"s":"M3","i":"u","t":229,"v":293},{"s":"M3","i":"u","t":232,"v":281},{"s":"M3","i":"u","t":235,"v":266},{"s":"M3","i":"u","t":238,"v":252},{"s":"M3","i":"u","t":240,"v":245},{"s":"M3","i":"u","t":242,"v":233},{"s":"M3","i":"u","t":244,"v":208},{"s":"M3","i":"u","t":246,"v":170},{"s":"M3","i":"u","t":248,"v":125},{"s":"M3","i":"u","t":250,"v":72},{"s":"M3","i":"u","t":251,"v":48},{"s":"M3","i":"u","t":252,"v":25},{"s":"M3","i":"u","t":253,"v":21},{"s":"M3","i":"u","t":254,"v":18},{"s":"M3","i":"u","t":258,"v":11.5},{"s":"M3","i":"u","t":262,"v":7},{"s":"M3","i":"u","t":266,"v":4},{"s":"M3","i":"u","t":270,"v":2.3},{"s":"M3","i":"u","t":274,"v":1.4},{"s":"M3","i":"u","t":278,"v":0.9},
{"s":"M3","i":"l","t":210,"v":376},{"s":"M3","i":"l","t":212,"v":365},{"s":"M3","i":"l","t":214,"v":327},{"s":"M3","i":"l","t":216,"v":297},{"s":"M3","i":"l","t":218,"v":277},{"s":"M3","i":"l","t":220,"v":260},{"s":"M3","i":"l","t":223,"v":238},{"s":"M3","i":"l","t":226,"v":216},{"s":"M3","i":"l","t":229,"v":196},{"s":"M3","i":"l","t":232,"v":177},{"s":"M3","i":"l","t":235,"v":160},{"s":"M3","i":"l","t":238,"v":142},{"s":"M3","i":"l","t":240,"v":132},{"s":"M3","i":"l","t":242,"v":115},{"s":"M3","i":"l","t":244,"v":96},{"s":"M3","i":"l","t":246,"v":74},{"s":"M3","i":"l","t":248,"v":50},{"s":"M3","i":"l","t":250,"v":28},{"s":"M3","i":"l","t":251,"v":20},{"s":"M3","i":"l","t":252,"v":16},{"s":"M3","i":"l","t":253,"v":20},{"s":"M3","i":"l","t":254,"v":16.5},{"s":"M3","i":"l","t":258,"v":10.5},{"s":"M3","i":"l","t":262,"v":6},{"s":"M3","i":"l","t":266,"v":3.2},{"s":"M3","i":"l","t":270,"v":1.8},{"s":"M3","i":"l","t":274,"v":1},{"s":"M3","i":"l","t":278,"v":0.6},
{"s":"L3","i":"u","t":210,"v":400},{"s":"L3","i":"u","t":212,"v":391},{"s":"L3","i":"u","t":214,"v":377},{"s":"L3","i":"u","t":216,"v":364},{"s":"L3","i":"u","t":218,"v":355},{"s":"L3","i":"u","t":220,"v":346},{"s":"L3","i":"u","t":223,"v":332},{"s":"L3","i":"u","t":226,"v":320},{"s":"L3","i":"u","t":229,"v":307},{"s":"L3","i":"u","t":232,"v":294},{"s":"L3","i":"u","t":235,"v":279},{"s":"L3","i":"u","t":238,"v":254},{"s":"L3","i":"u","t":240,"v":237},{"s":"L3","i":"u","t":242,"v":218},{"s":"L3","i":"u","t":244,"v":190},{"s":"L3","i":"u","t":246,"v":152},{"s":"L3","i":"u","t":248,"v":108},{"s":"L3","i":"u","t":250,"v":62},{"s":"L3","i":"u","t":251,"v":42},{"s":"L3","i":"u","t":252,"v":24},{"s":"L3","i":"u","t":253,"v":21},{"s":"L3","i":"u","t":254,"v":18},{"s":"L3","i":"u","t":258,"v":11.5},{"s":"L3","i":"u","t":262,"v":7},{"s":"L3","i":"u","t":266,"v":4},{"s":"L3","i":"u","t":270,"v":2.3},{"s":"L3","i":"u","t":274,"v":1.4},{"s":"L3","i":"u","t":278,"v":0.9},
{"s":"L3","i":"l","t":210,"v":376},{"s":"L3","i":"l","t":212,"v":361},{"s":"L3","i":"l","t":214,"v":327},{"s":"L3","i":"l","t":216,"v":295},{"s":"L3","i":"l","t":218,"v":268},{"s":"L3","i":"l","t":220,"v":247},{"s":"L3","i":"l","t":223,"v":220},{"s":"L3","i":"l","t":226,"v":197},{"s":"L3","i":"l","t":229,"v":179},{"s":"L3","i":"l","t":232,"v":164},{"s":"L3","i":"l","t":235,"v":152},{"s":"L3","i":"l","t":238,"v":141},{"s":"L3","i":"l","t":240,"v":137},{"s":"L3","i":"l","t":242,"v":126},{"s":"L3","i":"l","t":244,"v":107},{"s":"L3","i":"l","t":246,"v":86},{"s":"L3","i":"l","t":248,"v":62},{"s":"L3","i":"l","t":250,"v":37},{"s":"L3","i":"l","t":251,"v":28},{"s":"L3","i":"l","t":252,"v":20},{"s":"L3","i":"l","t":253,"v":20},{"s":"L3","i":"l","t":254,"v":16.5},{"s":"L3","i":"l","t":258,"v":10.5},{"s":"L3","i":"l","t":262,"v":6},{"s":"L3","i":"l","t":266,"v":3.2},{"s":"L3","i":"l","t":270,"v":1.8},{"s":"L3","i":"l","t":274,"v":1},{"s":"L3","i":"l","t":278,"v":0.6},
{"s":"MS","i":"1","t":210,"v":377},{"s":"MS","i":"1","t":213,"v":349},{"s":"MS","i":"1","t":216,"v":299},{"s":"MS","i":"1","t":220,"v":263},{"s":"MS","i":"1","t":225,"v":226},{"s":"MS","i":"1","t":230,"v":194},{"s":"MS","i":"1","t":235,"v":164},{"s":"MS","i":"1","t":238,"v":146},{"s":"MS","i":"1","t":241,"v":129},{"s":"MS","i":"1","t":244,"v":100},{"s":"MS","i":"1","t":247,"v":65},{"s":"MS","i":"1","t":250,"v":30},{"s":"MS","i":"1","t":252,"v":16},{"s":"MS","i":"1","t":255,"v":15},{"s":"MS","i":"1","t":262,"v":5},
{"s":"MS","i":"2","t":210,"v":378},{"s":"MS","i":"2","t":213,"v":351},{"s":"MS","i":"2","t":216,"v":302},{"s":"MS","i":"2","t":220,"v":267},{"s":"MS","i":"2","t":225,"v":232},{"s":"MS","i":"2","t":230,"v":200},{"s":"MS","i":"2","t":235,"v":171},{"s":"MS","i":"2","t":238,"v":153},{"s":"MS","i":"2","t":241,"v":136},{"s":"MS","i":"2","t":244,"v":107},{"s":"MS","i":"2","t":247,"v":71},{"s":"MS","i":"2","t":250,"v":32},{"s":"MS","i":"2","t":252,"v":17},{"s":"MS","i":"2","t":255,"v":15},{"s":"MS","i":"2","t":262,"v":5},
{"s":"MS","i":"3","t":210,"v":380},{"s":"MS","i":"3","t":213,"v":353},{"s":"MS","i":"3","t":216,"v":305},{"s":"MS","i":"3","t":220,"v":271},{"s":"MS","i":"3","t":225,"v":237},{"s":"MS","i":"3","t":230,"v":206},{"s":"MS","i":"3","t":235,"v":180},{"s":"MS","i":"3","t":238,"v":165},{"s":"MS","i":"3","t":241,"v":149},{"s":"MS","i":"3","t":244,"v":114},{"s":"MS","i":"3","t":247,"v":76},{"s":"MS","i":"3","t":250,"v":35},{"s":"MS","i":"3","t":252,"v":17},{"s":"MS","i":"3","t":255,"v":15},{"s":"MS","i":"3","t":262,"v":5},
{"s":"MS","i":"4","t":210,"v":381},{"s":"MS","i":"4","t":213,"v":355},{"s":"MS","i":"4","t":216,"v":309},{"s":"MS","i":"4","t":220,"v":275},{"s":"MS","i":"4","t":225,"v":242},{"s":"MS","i":"4","t":230,"v":212},{"s":"MS","i":"4","t":235,"v":183},{"s":"MS","i":"4","t":238,"v":166},{"s":"MS","i":"4","t":241,"v":150},{"s":"MS","i":"4","t":244,"v":121},{"s":"MS","i":"4","t":247,"v":81},{"s":"MS","i":"4","t":250,"v":38},{"s":"MS","i":"4","t":252,"v":18},{"s":"MS","i":"4","t":255,"v":15},{"s":"MS","i":"4","t":262,"v":5},
{"s":"MS","i":"5","t":210,"v":382},{"s":"MS","i":"5","t":213,"v":356},{"s":"MS","i":"5","t":216,"v":311},{"s":"MS","i":"5","t":220,"v":278},{"s":"MS","i":"5","t":225,"v":246},{"s":"MS","i":"5","t":230,"v":217},{"s":"MS","i":"5","t":235,"v":189},{"s":"MS","i":"5","t":238,"v":172},{"s":"MS","i":"5","t":241,"v":155},{"s":"MS","i":"5","t":244,"v":126},{"s":"MS","i":"5","t":247,"v":85},{"s":"MS","i":"5","t":250,"v":40},{"s":"MS","i":"5","t":252,"v":18},{"s":"MS","i":"5","t":255,"v":15},{"s":"MS","i":"5","t":262,"v":5},
{"s":"MS","i":"6","t":210,"v":384},{"s":"MS","i":"6","t":213,"v":358},{"s":"MS","i":"6","t":216,"v":314},{"s":"MS","i":"6","t":220,"v":281},{"s":"MS","i":"6","t":225,"v":250},{"s":"MS","i":"6","t":230,"v":222},{"s":"MS","i":"6","t":235,"v":194},{"s":"MS","i":"6","t":238,"v":177},{"s":"MS","i":"6","t":241,"v":161},{"s":"MS","i":"6","t":244,"v":132},{"s":"MS","i":"6","t":247,"v":90},{"s":"MS","i":"6","t":250,"v":42},{"s":"MS","i":"6","t":252,"v":19},{"s":"MS","i":"6","t":255,"v":15},{"s":"MS","i":"6","t":262,"v":5},
{"s":"MS","i":"7","t":210,"v":385},{"s":"MS","i":"7","t":213,"v":359},{"s":"MS","i":"7","t":216,"v":317},{"s":"MS","i":"7","t":220,"v":285},{"s":"MS","i":"7","t":225,"v":254},{"s":"MS","i":"7","t":230,"v":227},{"s":"MS","i":"7","t":235,"v":199},{"s":"MS","i":"7","t":238,"v":183},{"s":"MS","i":"7","t":241,"v":167},{"s":"MS","i":"7","t":244,"v":137},{"s":"MS","i":"7","t":247,"v":94},{"s":"MS","i":"7","t":250,"v":44},{"s":"MS","i":"7","t":252,"v":19},{"s":"MS","i":"7","t":255,"v":15},{"s":"MS","i":"7","t":262,"v":5},
{"s":"MS","i":"8","t":210,"v":386},{"s":"MS","i":"8","t":213,"v":361},{"s":"MS","i":"8","t":216,"v":319},{"s":"MS","i":"8","t":220,"v":288},{"s":"MS","i":"8","t":225,"v":259},{"s":"MS","i":"8","t":230,"v":232},{"s":"MS","i":"8","t":235,"v":205},{"s":"MS","i":"8","t":238,"v":188},{"s":"MS","i":"8","t":241,"v":173},{"s":"MS","i":"8","t":244,"v":143},{"s":"MS","i":"8","t":247,"v":98},{"s":"MS","i":"8","t":250,"v":46},{"s":"MS","i":"8","t":252,"v":19},{"s":"MS","i":"8","t":255,"v":16},{"s":"MS","i":"8","t":262,"v":5},
{"s":"MS","i":"9","t":210,"v":387},{"s":"MS","i":"9","t":213,"v":362},{"s":"MS","i":"9","t":216,"v":321},{"s":"MS","i":"9","t":220,"v":291},{"s":"MS","i":"9","t":225,"v":262},{"s":"MS","i":"9","t":230,"v":236},{"s":"MS","i":"9","t":235,"v":209},{"s":"MS","i":"9","t":238,"v":193},{"s":"MS","i":"9","t":241,"v":177},{"s":"MS","i":"9","t":244,"v":148},{"s":"MS","i":"9","t":247,"v":102},{"s":"MS","i":"9","t":250,"v":48},{"s":"MS","i":"9","t":252,"v":20},{"s":"MS","i":"9","t":255,"v":16},{"s":"MS","i":"9","t":262,"v":5},
{"s":"MS","i":"10","t":210,"v":388},{"s":"MS","i":"10","t":213,"v":363},{"s":"MS","i":"10","t":216,"v":324},{"s":"MS","i":"10","t":220,"v":294},{"s":"MS","i":"10","t":225,"v":266},{"s":"MS","i":"10","t":230,"v":240},{"s":"MS","i":"10","t":235,"v":213},{"s":"MS","i":"10","t":238,"v":197},{"s":"MS","i":"10","t":241,"v":182},{"s":"MS","i":"10","t":244,"v":152},{"s":"MS","i":"10","t":247,"v":105},{"s":"MS","i":"10","t":250,"v":50},{"s":"MS","i":"10","t":252,"v":20},{"s":"MS","i":"10","t":255,"v":16},{"s":"MS","i":"10","t":262,"v":5},
{"s":"MS","i":"11","t":210,"v":389},{"s":"MS","i":"11","t":213,"v":364},{"s":"MS","i":"11","t":216,"v":326},{"s":"MS","i":"11","t":220,"v":296},{"s":"MS","i":"11","t":225,"v":269},{"s":"MS","i":"11","t":230,"v":243},{"s":"MS","i":"11","t":235,"v":217},{"s":"MS","i":"11","t":238,"v":201},{"s":"MS","i":"11","t":241,"v":187},{"s":"MS","i":"11","t":244,"v":156},{"s":"MS","i":"11","t":247,"v":108},{"s":"MS","i":"11","t":250,"v":52},{"s":"MS","i":"11","t":252,"v":20},{"s":"MS","i":"11","t":255,"v":16},{"s":"MS","i":"11","t":262,"v":6},
{"s":"MS","i":"12","t":210,"v":390},{"s":"MS","i":"12","t":213,"v":365},{"s":"MS","i":"12","t":216,"v":328},{"s":"MS","i":"12","t":220,"v":299},{"s":"MS","i":"12","t":225,"v":272},{"s":"MS","i":"12","t":230,"v":245},{"s":"MS","i":"12","t":235,"v":217},{"s":"MS","i":"12","t":238,"v":203},{"s":"MS","i":"12","t":241,"v":191},{"s":"MS","i":"12","t":244,"v":161},{"s":"MS","i":"12","t":247,"v":112},{"s":"MS","i":"12","t":250,"v":54},{"s":"MS","i":"12","t":252,"v":21},{"s":"MS","i":"12","t":255,"v":16},{"s":"MS","i":"12","t":262,"v":6},
{"s":"MS","i":"13","t":210,"v":391},{"s":"MS","i":"13","t":213,"v":367},{"s":"MS","i":"13","t":216,"v":330},{"s":"MS","i":"13","t":220,"v":302},{"s":"MS","i":"13","t":225,"v":276},{"s":"MS","i":"13","t":230,"v":251},{"s":"MS","i":"13","t":235,"v":226},{"s":"MS","i":"13","t":238,"v":210},{"s":"MS","i":"13","t":241,"v":196},{"s":"MS","i":"13","t":244,"v":165},{"s":"MS","i":"13","t":247,"v":115},{"s":"MS","i":"13","t":250,"v":55},{"s":"MS","i":"13","t":252,"v":21},{"s":"MS","i":"13","t":255,"v":16},{"s":"MS","i":"13","t":262,"v":6},
{"s":"MS","i":"14","t":210,"v":392},{"s":"MS","i":"14","t":213,"v":368},{"s":"MS","i":"14","t":216,"v":332},{"s":"MS","i":"14","t":220,"v":304},{"s":"MS","i":"14","t":225,"v":279},{"s":"MS","i":"14","t":230,"v":255},{"s":"MS","i":"14","t":235,"v":230},{"s":"MS","i":"14","t":238,"v":215},{"s":"MS","i":"14","t":241,"v":201},{"s":"MS","i":"14","t":244,"v":170},{"s":"MS","i":"14","t":247,"v":119},{"s":"MS","i":"14","t":250,"v":57},{"s":"MS","i":"14","t":252,"v":21},{"s":"MS","i":"14","t":255,"v":16},{"s":"MS","i":"14","t":262,"v":6},
{"s":"MS","i":"15","t":210,"v":393},{"s":"MS","i":"15","t":213,"v":369},{"s":"MS","i":"15","t":216,"v":334},{"s":"MS","i":"15","t":220,"v":307},{"s":"MS","i":"15","t":225,"v":283},{"s":"MS","i":"15","t":230,"v":259},{"s":"MS","i":"15","t":235,"v":234},{"s":"MS","i":"15","t":238,"v":219},{"s":"MS","i":"15","t":241,"v":205},{"s":"MS","i":"15","t":244,"v":174},{"s":"MS","i":"15","t":247,"v":122},{"s":"MS","i":"15","t":250,"v":59},{"s":"MS","i":"15","t":252,"v":22},{"s":"MS","i":"15","t":255,"v":16},{"s":"MS","i":"15","t":262,"v":6},
{"s":"MS","i":"16","t":210,"v":394},{"s":"MS","i":"16","t":213,"v":370},{"s":"MS","i":"16","t":216,"v":337},{"s":"MS","i":"16","t":220,"v":310},{"s":"MS","i":"16","t":225,"v":287},{"s":"MS","i":"16","t":230,"v":264},{"s":"MS","i":"16","t":235,"v":240},{"s":"MS","i":"16","t":238,"v":225},{"s":"MS","i":"16","t":241,"v":211},{"s":"MS","i":"16","t":244,"v":180},{"s":"MS","i":"16","t":247,"v":127},{"s":"MS","i":"16","t":250,"v":61},{"s":"MS","i":"16","t":252,"v":22},{"s":"MS","i":"16","t":255,"v":16},{"s":"MS","i":"16","t":262,"v":6},
{"s":"MS","i":"17","t":210,"v":395},{"s":"MS","i":"17","t":213,"v":372},{"s":"MS","i":"17","t":216,"v":339},{"s":"MS","i":"17","t":220,"v":314},{"s":"MS","i":"17","t":225,"v":291},{"s":"MS","i":"17","t":230,"v":269},{"s":"MS","i":"17","t":235,"v":245},{"s":"MS","i":"17","t":238,"v":230},{"s":"MS","i":"17","t":241,"v":217},{"s":"MS","i":"17","t":244,"v":186},{"s":"MS","i":"17","t":247,"v":131},{"s":"MS","i":"17","t":250,"v":63},{"s":"MS","i":"17","t":252,"v":22},{"s":"MS","i":"17","t":255,"v":16},{"s":"MS","i":"17","t":262,"v":6},
{"s":"MS","i":"18","t":210,"v":397},{"s":"MS","i":"18","t":213,"v":374},{"s":"MS","i":"18","t":216,"v":343},{"s":"MS","i":"18","t":220,"v":318},{"s":"MS","i":"18","t":225,"v":296},{"s":"MS","i":"18","t":230,"v":275},{"s":"MS","i":"18","t":235,"v":249},{"s":"MS","i":"18","t":238,"v":234},{"s":"MS","i":"18","t":241,"v":224},{"s":"MS","i":"18","t":244,"v":192},{"s":"MS","i":"18","t":247,"v":136},{"s":"MS","i":"18","t":250,"v":66},{"s":"MS","i":"18","t":252,"v":23},{"s":"MS","i":"18","t":255,"v":16},{"s":"MS","i":"18","t":262,"v":6},
{"s":"MS","i":"19","t":210,"v":398},{"s":"MS","i":"19","t":213,"v":376},{"s":"MS","i":"19","t":216,"v":346},{"s":"MS","i":"19","t":220,"v":322},{"s":"MS","i":"19","t":225,"v":301},{"s":"MS","i":"19","t":230,"v":281},{"s":"MS","i":"19","t":235,"v":258},{"s":"MS","i":"19","t":238,"v":243},{"s":"MS","i":"19","t":241,"v":231},{"s":"MS","i":"19","t":244,"v":199},{"s":"MS","i":"19","t":247,"v":141},{"s":"MS","i":"19","t":250,"v":68},{"s":"MS","i":"19","t":252,"v":23},{"s":"MS","i":"19","t":255,"v":16},{"s":"MS","i":"19","t":262,"v":6},
{"s":"MS","i":"20","t":210,"v":399},{"s":"MS","i":"20","t":213,"v":377},{"s":"MS","i":"20","t":216,"v":348},{"s":"MS","i":"20","t":220,"v":325},{"s":"MS","i":"20","t":225,"v":306},{"s":"MS","i":"20","t":230,"v":286},{"s":"MS","i":"20","t":235,"v":263},{"s":"MS","i":"20","t":238,"v":249},{"s":"MS","i":"20","t":241,"v":237},{"s":"MS","i":"20","t":244,"v":205},{"s":"MS","i":"20","t":247,"v":145},{"s":"MS","i":"20","t":250,"v":71},{"s":"MS","i":"20","t":252,"v":24},{"s":"MS","i":"20","t":255,"v":16},{"s":"MS","i":"20","t":262,"v":6}
]
},
"hconcat":[
{
 "width":373,"height":422,
 "title":{"text":"(a)  Dynamic Pressure Dispersions","orient":"bottom","anchor":"middle","frame":"group","dx":-11,"offset":31,"font":"Liberation Serif","fontSize":22,"fontWeight":"normal","color":"#000000"},
 "layer":[
  {"layer":[
   {"data":{"name":"a"},
    "encoding":{
     "x":{"field":"t","type":"quantitative","scale":{"domain":[0,280],"nice":false,"zero":false},"axis":{"values":[0,50,100,150,200,250],"title":"Time (s)"}},
     "y":{"field":"q","type":"quantitative","scale":{"domain":[0,20000],"nice":false},"axis":{"values":[0,2000,4000,6000,8000,10000,12000,14000,16000,18000,20000],"labelExpr":"format(datum.value/10000,'~g')","title":"Dynamic pressure (Pa)"}},
     "detail":{"field":"i"},
     "color":{"field":"s","type":"nominal","scale":{"domain":["LN","MN","MC","LC","MS"],"range":["#0000ff","#ff0000","#000000","#8b0000","#c4c4c4"]},"legend":{"title":null,"orient":"none","legendX":206,"legendY":268,"symbolType":"M-2,0H2","symbolSize":196,"symbolOffset":6,"labelFontSize":13,"labelColor":"#000000","strokeColor":"#a0a0a0","fillColor":"#ffffff","padding":4,"rowPadding":1,"labelOffset":12,"labelExpr":"datum.label=='LN'?'LC Nominal':datum.label=='MN'?'MC Nominal':datum.label=='MC'?'MC Cov':datum.label=='LC'?'LC Cov':'MC Samples'"}},
     "strokeDash":{"field":"s","type":"nominal","scale":{"domain":["LN","MN","MC","LC","MS"],"range":[[2,2],[1,0],[1,0],[1,0],[1,0]]},"legend":{"title":null,"orient":"none","legendX":206,"legendY":268,"symbolType":"M-2,0H2","symbolSize":196,"symbolOffset":6,"labelFontSize":13,"labelColor":"#000000","strokeColor":"#a0a0a0","fillColor":"#ffffff","padding":4,"rowPadding":1,"labelOffset":12,"labelExpr":"datum.label=='LN'?'LC Nominal':datum.label=='MN'?'MC Nominal':datum.label=='MC'?'MC Cov':datum.label=='LC'?'LC Cov':'MC Samples'"}},
     "strokeWidth":{"field":"s","type":"nominal","scale":{"type":"ordinal","domain":["LN","MN","MC","LC","MS"],"range":[2,2,2.2,2.2,0.8]},"legend":{"title":null,"orient":"none","legendX":206,"legendY":268,"symbolType":"M-2,0H2","symbolSize":196,"symbolOffset":6,"labelFontSize":13,"labelColor":"#000000","strokeColor":"#a0a0a0","fillColor":"#ffffff","padding":4,"rowPadding":1,"labelOffset":12,"labelExpr":"datum.label=='LN'?'LC Nominal':datum.label=='MN'?'MC Nominal':datum.label=='MC'?'MC Cov':datum.label=='LC'?'LC Cov':'MC Samples'"}}
    },
    "layer":[
     {"transform":[{"filter":"datum.s=='MS'"}],"mark":{"type":"line","interpolate":"monotone"}},
     {"transform":[{"filter":"datum.s=='LC'"}],"mark":{"type":"line","interpolate":"monotone"}},
     {"transform":[{"filter":"datum.s=='MC'"}],"mark":{"type":"line","interpolate":"monotone"}},
     {"transform":[{"filter":"datum.s=='N'"}],"mark":{"type":"line","interpolate":"monotone"},"encoding":{"color":{"datum":"MN"},"strokeDash":{"datum":"MN"},"strokeWidth":{"datum":"MN"}}},
     {"transform":[{"filter":"datum.s=='N'"}],"mark":{"type":"line","interpolate":"monotone"},"encoding":{"color":{"datum":"LN"},"strokeDash":{"datum":"LN"},"strokeWidth":{"datum":"LN"}}}
    ]
   },
   {"data":{"values":[{}]},"mark":{"type":"text","text":"×10⁴","align":"left","baseline":"bottom","dy":-2,"fontSize":14,"color":"#262626"},"encoding":{"x":{"datum":0,"scale":{"domain":[0,280],"nice":false,"zero":false}},"y":{"datum":20000,"scale":{"domain":[0,20000],"nice":false}}}}
  ]},
  {"layer":[
   {"data":{"values":[{}]},"mark":{"type":"rect","fill":"#ffffff","stroke":"#9a9a9a","strokeWidth":1},
    "encoding":{"x":{"datum":75,"scale":{"domain":[75,105],"range":[178,371],"nice":false,"zero":false}},"x2":{"datum":105},"y":{"datum":12000,"scale":{"domain":[12000,18000],"range":[220,13],"nice":false,"zero":false}},"y2":{"datum":18000}}},
   {"data":{"name":"ai"},
    "encoding":{
     "x":{"field":"t","type":"quantitative","scale":{"domain":[75,105],"range":[178,371],"nice":false,"zero":false},"axis":{"orient":"top","offset":-220,"values":[75,80,85,90,95,100,105],"title":null,"labelFontSize":11,"labelPadding":-18,"tickSize":3,"labelBaseline":"bottom","zindex":1}},
     "y":{"field":"q","type":"quantitative","scale":{"domain":[12000,18000],"range":[220,13],"nice":false,"zero":false},"axis":{"orient":"left","offset":-178,"values":[12000,13000,14000,15000,16000,17000,18000],"labelExpr":"format(datum.value/10000,'.1f')","title":null,"labelFontSize":11,"tickSize":-3,"labelPadding":6,"zindex":1}},
     "detail":{"field":"i"},
     "color":{"field":"s","type":"nominal","scale":{"domain":["LN","MN","MC","LC","MS"],"range":["#0000ff","#ff0000","#000000","#8b0000","#c4c4c4"]}},
     "strokeDash":{"field":"s","type":"nominal","scale":{"domain":["LN","MN","MC","LC","MS"],"range":[[2,2],[1,0],[1,0],[1,0],[1,0]]}},
     "strokeWidth":{"field":"s","type":"nominal","scale":{"type":"ordinal","domain":["LN","MN","MC","LC","MS"],"range":[2,2,2.2,2.2,0.8]}}
    },
    "layer":[
     {"transform":[{"filter":"datum.s=='MS'"}],"mark":{"type":"line"}},
     {"transform":[{"filter":"datum.s=='LC'"}],"mark":{"type":"line","interpolate":"monotone"}},
     {"transform":[{"filter":"datum.s=='MC'"}],"mark":{"type":"line"}},
     {"transform":[{"filter":"datum.s=='N'"}],"mark":{"type":"line","interpolate":"monotone"},"encoding":{"color":{"datum":"MN"},"strokeDash":{"datum":"MN"},"strokeWidth":{"datum":"MN"}}},
     {"transform":[{"filter":"datum.s=='N'"}],"mark":{"type":"line","interpolate":"monotone"},"encoding":{"color":{"datum":"LN"},"strokeDash":{"datum":"LN"},"strokeWidth":{"datum":"LN"}}}
    ]
   },
   {"data":{"values":[{}]},"mark":{"type":"text","text":"×10⁴","align":"left","baseline":"bottom","dy":-1,"fontSize":9,"color":"#262626"},
    "encoding":{"x":{"datum":75,"scale":{"domain":[75,105],"range":[178,371],"nice":false,"zero":false}},"y":{"datum":18000,"scale":{"domain":[12000,18000],"range":[220,13],"nice":false,"zero":false}}}}
  ]}
 ],
 "resolve":{"scale":{"x":"independent","y":"independent"},"axis":{"x":"independent","y":"independent"}}
},
{
 "width":372,"height":422,
 "title":{"text":"(b)  Velocity Dispersions during propulsive flight segment","orient":"bottom","anchor":"middle","frame":"group","dx":-12,"offset":31,"font":"Liberation Serif","fontSize":21,"fontWeight":"normal","color":"#000000"},
 "data":{"name":"b"},
 "encoding":{
  "x":{"field":"t","type":"quantitative","scale":{"domain":[210,280],"nice":false,"zero":false},"axis":{"values":[210,220,230,240,250,260,270,280],"title":"Time (s)"}},
  "y":{"field":"v","type":"quantitative","scale":{"domain":[0,400],"nice":false},"axis":{"values":[0,50,100,150,200,250,300,350,400],"title":"Surface-relative velocity (m/s)"}},
  "detail":{"field":"i"},
  "color":{"field":"s","type":"nominal","scale":{"domain":["LN","MN","L3","M3","MS"],"range":["#0000ff","#ff0000","#b03030","#000000","#c4c4c4"]},"legend":{"title":null,"orient":"none","legendX":253,"legendY":8,"symbolType":"M-2,0H2","symbolSize":196,"symbolOffset":6,"labelFontSize":13,"labelColor":"#000000","strokeColor":"#a0a0a0","fillColor":"#ffffff","padding":4,"rowPadding":1,"labelOffset":12,"labelExpr":"datum.label=='LN'?'LC Nom':datum.label=='MN'?'MC Nom':datum.label=='L3'?'LC 3-σ':datum.label=='M3'?'MC 3-σ':'MC samples'"}},
  "strokeDash":{"field":"s","type":"nominal","scale":{"domain":["LN","MN","L3","M3","MS"],"range":[[2,2],[1,0],[1,0],[1,0],[1,0]]},"legend":{"title":null,"orient":"none","legendX":253,"legendY":8,"symbolType":"M-2,0H2","symbolSize":196,"symbolOffset":6,"labelFontSize":13,"labelColor":"#000000","strokeColor":"#a0a0a0","fillColor":"#ffffff","padding":4,"rowPadding":1,"labelOffset":12,"labelExpr":"datum.label=='LN'?'LC Nom':datum.label=='MN'?'MC Nom':datum.label=='L3'?'LC 3-σ':datum.label=='M3'?'MC 3-σ':'MC samples'"}},
  "strokeWidth":{"field":"s","type":"nominal","scale":{"type":"ordinal","domain":["LN","MN","L3","M3","MS"],"range":[2,2,0.8,2,0.8]},"legend":{"title":null,"orient":"none","legendX":253,"legendY":8,"symbolType":"M-2,0H2","symbolSize":196,"symbolOffset":6,"labelFontSize":13,"labelColor":"#000000","strokeColor":"#a0a0a0","fillColor":"#ffffff","padding":4,"rowPadding":1,"labelOffset":12,"labelExpr":"datum.label=='LN'?'LC Nom':datum.label=='MN'?'MC Nom':datum.label=='L3'?'LC 3-σ':datum.label=='M3'?'MC 3-σ':'MC samples'"}}
 },
 "layer":[
  {"transform":[{"filter":"datum.s=='MS'"}],"mark":{"type":"line","interpolate":"monotone"},"encoding":{"strokeWidth":{"value":1.6}}},
  {"transform":[{"filter":"datum.s=='M3'"}],"mark":{"type":"line","interpolate":"monotone"}},
  {"transform":[{"filter":"datum.s=='L3'"}],"mark":{"type":"line","interpolate":"monotone"}},
  {"transform":[{"filter":"datum.s=='N'"}],"mark":{"type":"line","interpolate":"monotone"},"encoding":{"color":{"datum":"MN"},"strokeDash":{"datum":"MN"},"strokeWidth":{"datum":"MN"}}},
  {"transform":[{"filter":"datum.s=='N'"}],"mark":{"type":"line","interpolate":"monotone"},"encoding":{"color":{"datum":"LN"},"strokeDash":{"datum":"LN"},"strokeWidth":{"datum":"LN"}}}
 ]
}
],
"resolve":{"scale":{"color":"independent","strokeDash":"independent","strokeWidth":"independent"}}
}
